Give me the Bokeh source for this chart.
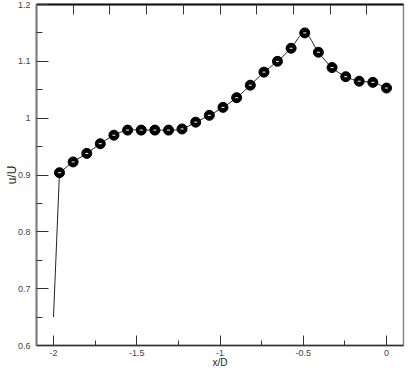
from bokeh.plotting import figure
from bokeh.models import Range1d, LinearAxis, FixedTicker, NumeralTickFormatter
from bokeh.embed import file_html
from bokeh.resources import INLINE

# ---- data ----
x_pts = [-1.964, -1.882, -1.800, -1.719, -1.637, -1.555, -1.473, -1.391, -1.309,
         -1.228, -1.146, -1.064, -0.982, -0.900, -0.818, -0.736, -0.655, -0.573,
         -0.491, -0.409, -0.327, -0.245, -0.164, -0.082, 0.0]
y_pts = [0.904, 0.923, 0.938, 0.955, 0.970, 0.979, 0.979, 0.979, 0.979,
         0.981, 0.993, 1.005, 1.019, 1.036, 1.058, 1.081, 1.100, 1.123,
         1.150, 1.116, 1.089, 1.073, 1.065, 1.063, 1.053]
start_x = [-2.0]
start_y = [0.65]

x_ticks = [-2, -1.5, -1, -0.5, 0]
x_minor = [-1.75, -1.25, -0.75, -0.25]
y_ticks = [0.6, 0.7, 0.8, 0.9, 1.0, 1.1, 1.2]
y_minor = [0.65, 0.75, 0.85, 0.95, 1.05, 1.15]
top_ticks = [1, 2, 3, 4, 5, 6, 7, 8, 9]
x_label = "x/D"
y_label = "u/U"

FONT = "Liberation Sans"

p = figure(width=409, height=370, output_backend="svg", toolbar_location=None,
           x_range=Range1d(-2.102, 0.102), y_range=Range1d(0.6, 1.2),
           min_border_left=36, min_border_right=6, min_border_top=4,
           min_border_bottom=23, x_axis_location=None, y_axis_location=None)
p.grid.visible = False
p.outline_line_color = "#888888"
p.outline_line_width = 1.5
p.background_fill_color = "white"
p.border_fill_color = "white"

# bottom axis
xa = LinearAxis(ticker=FixedTicker(ticks=x_ticks, minor_ticks=x_minor),
                formatter=NumeralTickFormatter(format="0.[0]"))
xa.axis_line_color = "#333333"
xa.axis_line_width = 1.5
xa.major_tick_in = 10
xa.major_tick_out = 0
xa.minor_tick_in = 5
xa.minor_tick_out = 0
xa.major_tick_line_color = "#333333"
xa.minor_tick_line_color = "#333333"
xa.major_label_text_font = FONT
xa.major_label_text_font_size = "9px"
xa.major_label_text_color = "#444444"
xa.major_label_standoff = 4
xa.axis_label = x_label
xa.axis_label_text_font = FONT
xa.axis_label_text_font_size = "10px"
xa.axis_label_text_font_style = "normal"
xa.axis_label_text_color = "#222222"
xa.axis_label_standoff = -2
p.add_layout(xa, "below")

# left axis
ya = LinearAxis(ticker=FixedTicker(ticks=y_ticks, minor_ticks=y_minor),
                formatter=NumeralTickFormatter(format="0.[0]"))
ya.axis_line_color = "#808080"
ya.axis_line_width = 2
ya.major_tick_in = 12
ya.major_tick_out = 0
ya.minor_tick_in = 6
ya.minor_tick_out = 0
ya.major_tick_line_color = "#333333"
ya.minor_tick_line_color = "#333333"
ya.major_label_text_font = FONT
ya.major_label_text_font_size = "9px"
ya.major_label_text_color = "#444444"
ya.major_label_standoff = 6
ya.axis_label = y_label
ya.axis_label_text_font = FONT
ya.axis_label_text_font_size = "12px"
ya.axis_label_text_font_style = "normal"
ya.axis_label_text_color = "#222222"
ya.axis_label_standoff = -4
p.add_layout(ya, "left")

# top axis (ticks only)
p.extra_x_ranges = {"top": Range1d(0, 10)}
ta = LinearAxis(x_range_name="top", ticker=FixedTicker(ticks=top_ticks, minor_ticks=[]),
                major_label_overrides={t: "" for t in top_ticks})
ta.axis_line_color = "#111111"
ta.axis_line_width = 2
ta.major_tick_in = 10
ta.major_tick_out = 0
ta.major_tick_line_color = "#333333"
ta.major_label_text_font_size = "1px"
ta.major_label_standoff = 0
p.add_layout(ta, "above")

# curve: straight lead-in segment then smooth Catmull-Rom through points
p.line(start_x + x_pts[:1], start_y + y_pts[:1], line_color="#222222", line_width=1)
n = len(x_pts)
x0s, y0s, x1s, y1s, cx0s, cy0s, cx1s, cy1s = [], [], [], [], [], [], [], []
for i in range(n - 1):
    im1 = max(i - 1, 0)
    ip2 = min(i + 2, n - 1)
    x0s.append(x_pts[i]); y0s.append(y_pts[i])
    x1s.append(x_pts[i + 1]); y1s.append(y_pts[i + 1])
    cx0s.append(x_pts[i] + (x_pts[i + 1] - x_pts[im1]) / 6)
    cy0s.append(y_pts[i] + (y_pts[i + 1] - y_pts[im1]) / 6)
    cx1s.append(x_pts[i + 1] - (x_pts[ip2] - x_pts[i]) / 6)
    cy1s.append(y_pts[i + 1] - (y_pts[ip2] - y_pts[i]) / 6)
p.bezier(x0=x0s, y0=y0s, x1=x1s, y1=y1s, cx0=cx0s, cy0=cy0s, cx1=cx1s, cy1=cy1s,
         line_color="#222222", line_width=1)

# markers: black spheres with a small white highlight
p.scatter(x_pts, y_pts, size=10, fill_color="black", line_color="black")
p.scatter(x_pts, y_pts, marker="dash", size=3, line_color="white", line_width=1)

open("out.html", "w").write(file_html(p, INLINE))
